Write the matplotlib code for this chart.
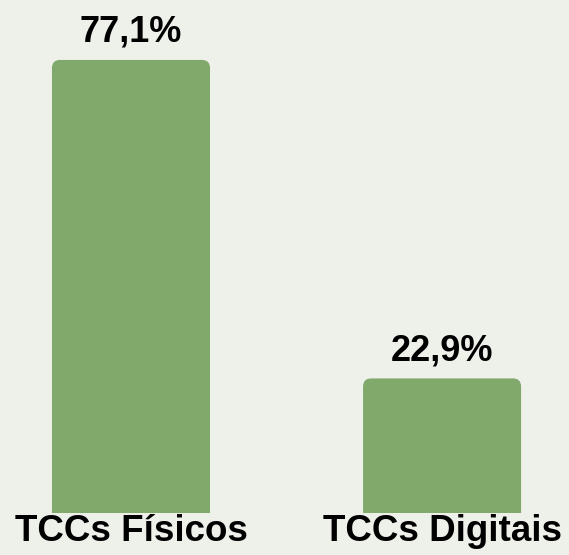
import matplotlib
matplotlib.use("Agg")
from matplotlib import pyplot as plt
from matplotlib.patches import FancyBboxPatch

# data
categories = ["TCCs Físicos", "TCCs Digitais"]
values = [77.1, 22.9]
value_labels = ["77,1%", "22,9%"]

bar_color = "#80a96b"
bg_color = "#eef0ea"

plt.rcParams['font.family'] = ['Liberation Sans', 'DejaVu Sans']

fig = plt.figure(figsize=(5.69, 5.55), dpi=100, facecolor=bg_color)
ax = fig.add_axes([0, 42 / 555, 1, 513 / 555])
ax.set_facecolor(bg_color)

width = 0.508
bars = ax.bar(range(len(values)), values, width=width, color=bar_color)

# swap plain bars for ones with rounded top corners
for b in bars:
    x, w, h = b.get_x(), b.get_width(), b.get_height()
    b.set_visible(False)
    p = FancyBboxPatch((x, -5), w, h + 5,
                       boxstyle="round,pad=0,rounding_size=0.026",
                       mutation_aspect=53, facecolor=bar_color,
                       edgecolor="none")
    ax.add_patch(p)

for i, (v, lab) in enumerate(zip(values, value_labels)):
    ax.text(i, v + 3.1, lab, ha="center", va="baseline", fontsize=26,
            fontweight="bold", color="black")

ax.set_xlim(-0.421, 1.408)
ax.set_ylim(0, 87.3)
ax.set_xticks(range(len(categories)))
ax.set_xticklabels(categories, fontsize=26.5, fontweight="bold")
ax.tick_params(axis="x", length=0, pad=1)
ax.set_yticks([])
for s in ax.spines.values():
    s.set_visible(False)

fig.savefig("out.png", dpi=100, facecolor=bg_color)
